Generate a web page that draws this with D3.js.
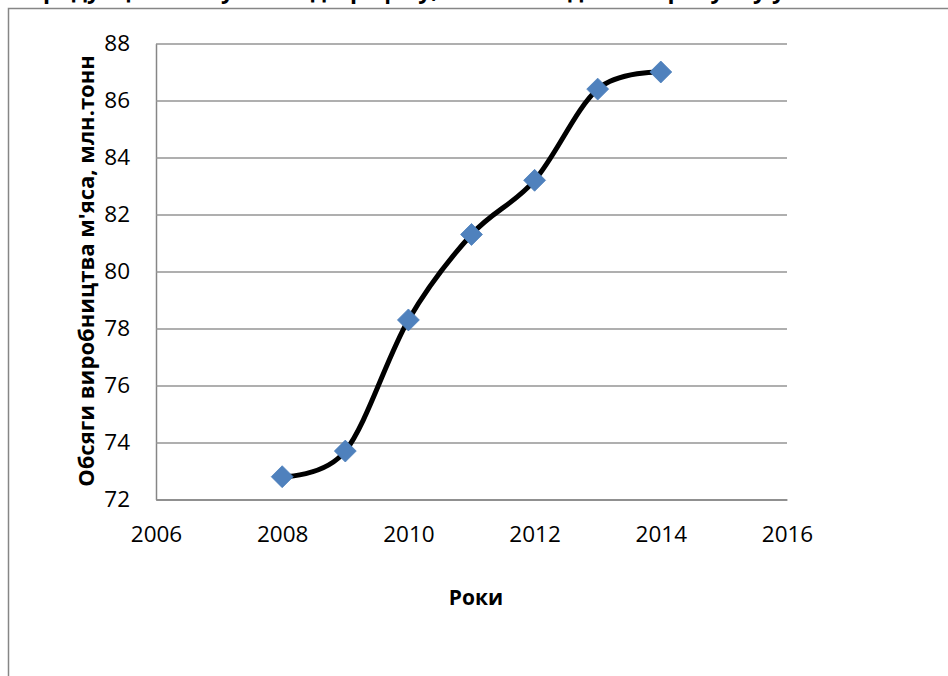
<!DOCTYPE html>
<html>
<head>
    <meta charset="utf-8">
    <title>Обсяги виробництва м'яса</title>
    <style>
        body { margin: 0; background: #fff; }
        svg { display: block; }
        .tick text { font-family: "Open Sans", sans-serif; font-size: 22.5px; fill: #000; }
        .title-lbl { font-family: "Open Sans", sans-serif; font-weight: bold; font-size: 21px; fill: #000; }
    </style>
</head>
<body>
    <script src="https://cdn.jsdelivr.net/npm/d3@7"></script>
    <script>
        // data
        var years = [2008, 2009, 2010, 2011, 2012, 2013, 2014];
        var meat = [72.8, 73.7, 78.3, 81.3, 83.2, 86.4, 87.0];
        var xTicks = [2006, 2008, 2010, 2012, 2014, 2016];
        var yTicks = [72, 74, 76, 78, 80, 82, 84, 86, 88];

        var width = 948,
            height = 676,
            gridColor = "#959595",
            axisColor = "#868686",
            markerColor = "#4f81bd";

        var svg = d3.select("body").append("svg")
            .attr("width", width)
            .attr("height", height);

        // bit of the page text above the chart, cut off by the crop
        svg.append("text")
            .attr("x", 28)
            .attr("y", -2)
            .attr("font-family", "Open Sans, sans-serif")
            .attr("font-weight", "bold")
            .attr("font-size", 23)
            .text("продукції м'яса у вигляді графіку, який наведено на рисунку у");

        // frame of the chart object
        svg.append("path")
            .attr("d", "M8.5," + height + "V8.5H" + width)
            .attr("fill", "none")
            .attr("stroke", axisColor)
            .attr("stroke-width", 1.5);

        var x = d3.scaleLinear().domain([2006, 2016]).range([156, 787]);
        var y = d3.scaleLinear().domain([72, 88]).range([499.5, 43.5]);

        // y axis + horizontal gridlines
        var yAxis = svg.append("g")
            .attr("transform", "translate(156,0)")
            .call(d3.axisLeft(y).tickValues(yTicks)
                .tickSize(-(787 - 156)).tickSizeOuter(0).tickPadding(26));
        yAxis.selectAll(".tick line").attr("stroke", gridColor).attr("stroke-width", 1.5);
        yAxis.select(".domain").attr("stroke", axisColor).attr("stroke-width", 1.5);

        // x axis
        var xAxis = svg.append("g")
            .attr("transform", "translate(0,499.5)")
            .call(d3.axisBottom(x).tickValues(xTicks).tickFormat(d3.format("d"))
                .tickSize(0).tickPadding(27));
        xAxis.select(".domain").attr("stroke", axisColor).attr("stroke-width", 1.5);

        // axis titles
        svg.append("text")
            .attr("class", "title-lbl")
            .attr("transform", "translate(94,271) rotate(-90)")
            .attr("text-anchor", "middle")
            .attr("font-size", 22)
            .style("font-size", "22px")
            .text("Обсяги виробництва м'яса, млн.тонн");

        svg.append("text")
            .attr("class", "title-lbl")
            .attr("x", 476)
            .attr("y", 605)
            .attr("text-anchor", "middle")
            .text("Роки");

        // smoothed line
        var line = d3.line()
            .x(function(d, i) { return x(years[i]); })
            .y(function(d) { return y(d); })
            .curve(d3.curveCardinal.tension(0));

        svg.append("path")
            .datum(meat)
            .attr("d", line)
            .attr("fill", "none")
            .attr("stroke", "#000")
            .attr("stroke-width", 5)
            .attr("stroke-linejoin", "round");

        // diamond markers
        var diamond = d3.symbol().type(d3.symbolSquare).size(240);
        svg.selectAll(".pt").data(meat)
            .enter().append("path")
            .attr("class", "pt")
            .attr("d", diamond)
            .attr("transform", function(d, i) {
                return "translate(" + x(years[i]) + "," + y(d) + ") rotate(45)";
            })
            .attr("fill", markerColor)
            .attr("stroke", "#4a7ebb")
            .attr("stroke-width", 0.75);
    </script>
</body>
</html>
